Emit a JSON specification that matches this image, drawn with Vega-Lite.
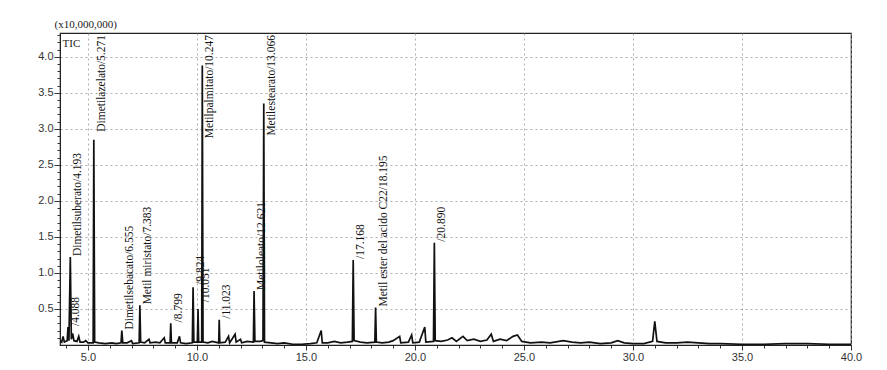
{
  "$schema": "https://vega.github.io/schema/vega-lite/v6.json",
  "autosize": {"type": "none"},
  "width": 791,
  "height": 312,
  "padding": {"left": 60, "top": 33, "right": 36, "bottom": 25},
  "background": "white",
  "config": {
    "view": {"stroke": "#222", "strokeWidth": 1.2},
    "axis": {"labelFont": "Liberation Sans", "labelFontSize": 11, "labelColor": "#333", "tickColor": "#333", "domainColor": "#222"}
  },
  "datasets": {
    "trace": [
      {"rt": 3.72, "i": 0.06}, {"rt": 3.8, "i": 0.04}, {"rt": 3.86, "i": 0.12}, {"rt": 3.92, "i": 0.04},
      {"rt": 4.05, "i": 0.06}, {"rt": 4.088, "i": 0.25}, {"rt": 4.13, "i": 0.06}, {"rt": 4.193, "i": 1.22},
      {"rt": 4.24, "i": 0.08}, {"rt": 4.3, "i": 0.16}, {"rt": 4.36, "i": 0.06}, {"rt": 4.5, "i": 0.05},
      {"rt": 4.58, "i": 0.12}, {"rt": 4.64, "i": 0.04}, {"rt": 4.8, "i": 0.04}, {"rt": 4.9, "i": 0.06},
      {"rt": 5.0, "i": 0.03}, {"rt": 5.24, "i": 0.03}, {"rt": 5.271, "i": 2.85}, {"rt": 5.31, "i": 0.04},
      {"rt": 5.5, "i": 0.03}, {"rt": 5.8, "i": 0.02}, {"rt": 6.1, "i": 0.03}, {"rt": 6.3, "i": 0.02},
      {"rt": 6.52, "i": 0.03}, {"rt": 6.555, "i": 0.2}, {"rt": 6.6, "i": 0.03}, {"rt": 6.8, "i": 0.03},
      {"rt": 7.0, "i": 0.06}, {"rt": 7.05, "i": 0.02}, {"rt": 7.35, "i": 0.03}, {"rt": 7.383, "i": 0.55},
      {"rt": 7.42, "i": 0.04}, {"rt": 7.6, "i": 0.03}, {"rt": 7.8, "i": 0.08}, {"rt": 7.85, "i": 0.03},
      {"rt": 8.1, "i": 0.04}, {"rt": 8.3, "i": 0.03}, {"rt": 8.5, "i": 0.1}, {"rt": 8.55, "i": 0.03},
      {"rt": 8.77, "i": 0.03}, {"rt": 8.799, "i": 0.3}, {"rt": 8.83, "i": 0.03}, {"rt": 9.1, "i": 0.03},
      {"rt": 9.2, "i": 0.12}, {"rt": 9.25, "i": 0.03}, {"rt": 9.5, "i": 0.02}, {"rt": 9.79, "i": 0.03},
      {"rt": 9.824, "i": 0.8}, {"rt": 9.86, "i": 0.04}, {"rt": 10.02, "i": 0.04}, {"rt": 10.051, "i": 0.5},
      {"rt": 10.08, "i": 0.04}, {"rt": 10.22, "i": 0.04}, {"rt": 10.247, "i": 3.88}, {"rt": 10.28, "i": 0.04},
      {"rt": 10.5, "i": 0.03}, {"rt": 10.7, "i": 0.05}, {"rt": 11.0, "i": 0.03}, {"rt": 11.023, "i": 0.35},
      {"rt": 11.05, "i": 0.03}, {"rt": 11.3, "i": 0.04}, {"rt": 11.45, "i": 0.12}, {"rt": 11.5, "i": 0.03},
      {"rt": 11.75, "i": 0.15}, {"rt": 11.8, "i": 0.04}, {"rt": 12.0, "i": 0.08}, {"rt": 12.05, "i": 0.03},
      {"rt": 12.3, "i": 0.05}, {"rt": 12.59, "i": 0.04}, {"rt": 12.621, "i": 0.75}, {"rt": 12.66, "i": 0.05},
      {"rt": 12.9, "i": 0.05}, {"rt": 13.03, "i": 0.06}, {"rt": 13.066, "i": 3.35}, {"rt": 13.1, "i": 0.04},
      {"rt": 13.4, "i": 0.03}, {"rt": 13.7, "i": 0.02}, {"rt": 14.0, "i": 0.03}, {"rt": 14.4, "i": 0.01},
      {"rt": 14.8, "i": 0.01}, {"rt": 15.2, "i": 0.02}, {"rt": 15.5, "i": 0.03}, {"rt": 15.7, "i": 0.2},
      {"rt": 15.75, "i": 0.03}, {"rt": 16.0, "i": 0.03}, {"rt": 16.3, "i": 0.05}, {"rt": 16.6, "i": 0.03},
      {"rt": 16.9, "i": 0.04}, {"rt": 17.13, "i": 0.05}, {"rt": 17.168, "i": 1.18}, {"rt": 17.21, "i": 0.06},
      {"rt": 17.5, "i": 0.04}, {"rt": 17.8, "i": 0.03}, {"rt": 18.16, "i": 0.04}, {"rt": 18.195, "i": 0.52},
      {"rt": 18.23, "i": 0.04}, {"rt": 18.5, "i": 0.03}, {"rt": 18.8, "i": 0.04}, {"rt": 19.0, "i": 0.06},
      {"rt": 19.3, "i": 0.12}, {"rt": 19.35, "i": 0.03}, {"rt": 19.7, "i": 0.04}, {"rt": 19.85, "i": 0.14},
      {"rt": 19.9, "i": 0.03}, {"rt": 20.2, "i": 0.04}, {"rt": 20.45, "i": 0.25}, {"rt": 20.5, "i": 0.04},
      {"rt": 20.85, "i": 0.05}, {"rt": 20.89, "i": 1.42}, {"rt": 20.93, "i": 0.06}, {"rt": 21.2, "i": 0.05},
      {"rt": 21.5, "i": 0.07}, {"rt": 21.7, "i": 0.1}, {"rt": 21.9, "i": 0.05}, {"rt": 22.2, "i": 0.12},
      {"rt": 22.4, "i": 0.06}, {"rt": 22.7, "i": 0.08}, {"rt": 23.0, "i": 0.05}, {"rt": 23.3, "i": 0.07},
      {"rt": 23.5, "i": 0.15}, {"rt": 23.6, "i": 0.05}, {"rt": 23.9, "i": 0.08}, {"rt": 24.2, "i": 0.06},
      {"rt": 24.5, "i": 0.12}, {"rt": 24.7, "i": 0.14}, {"rt": 24.9, "i": 0.05}, {"rt": 25.3, "i": 0.03},
      {"rt": 25.8, "i": 0.04}, {"rt": 26.2, "i": 0.03}, {"rt": 26.8, "i": 0.06}, {"rt": 27.2, "i": 0.04},
      {"rt": 27.6, "i": 0.03}, {"rt": 28.0, "i": 0.04}, {"rt": 28.5, "i": 0.02}, {"rt": 29.0, "i": 0.03},
      {"rt": 29.3, "i": 0.06}, {"rt": 29.6, "i": 0.03}, {"rt": 30.0, "i": 0.02}, {"rt": 30.5, "i": 0.02},
      {"rt": 30.9, "i": 0.05}, {"rt": 31.0, "i": 0.33}, {"rt": 31.1, "i": 0.05}, {"rt": 31.5, "i": 0.03},
      {"rt": 32.0, "i": 0.03}, {"rt": 32.5, "i": 0.04}, {"rt": 33.0, "i": 0.03}, {"rt": 33.5, "i": 0.02},
      {"rt": 34.0, "i": 0.02}, {"rt": 35.0, "i": 0.01}, {"rt": 36.0, "i": 0.01}, {"rt": 37.0, "i": 0.02},
      {"rt": 38.0, "i": 0.02}, {"rt": 39.0, "i": 0.01}, {"rt": 40.0, "i": 0.01}
    ],
    "labels": [
      {"rt": 4.088, "i": 0.25, "name": "/4.088"},
      {"rt": 4.193, "i": 1.22, "name": "Dimetilsuberato/4.193"},
      {"rt": 5.271, "i": 2.85, "name": "Dimetilazelato/5.271"},
      {"rt": 6.555, "i": 0.2, "name": "Dimetilsebacato/6.555"},
      {"rt": 7.383, "i": 0.55, "name": "Metil miristato/7.383"},
      {"rt": 8.799, "i": 0.3, "name": "/8.799"},
      {"rt": 9.824, "i": 0.82, "name": "/9.824"},
      {"rt": 10.051, "i": 0.58, "name": "/10.051"},
      {"rt": 10.247, "i": 3.88, "name": "Metilpalmitato/10.247"},
      {"rt": 11.023, "i": 0.35, "name": "/11.023"},
      {"rt": 12.621, "i": 0.75, "name": "Metiloleato/12.621"},
      {"rt": 13.066, "i": 3.35, "name": "Metilestearato/13.066"},
      {"rt": 17.168, "i": 1.18, "name": "/17.168"},
      {"rt": 18.195, "i": 0.52, "name": "Metil ester del acido C22/18.195"},
      {"rt": 20.89, "i": 1.42, "name": "/20.890"}
    ],
    "tic": [{"rt": 3.84, "i": 4.18, "name": "TIC"}]
  },
  "layer": [
    {
      "data": {"name": "trace"},
      "mark": {"type": "line", "color": "#111", "strokeWidth": 1.7, "clip": true},
      "encoding": {
        "x": {"field": "rt", "type": "quantitative",
              "scale": {"domain": [3.72, 40], "nice": false, "zero": false},
              "axis": {"title": null, "tickCount": 200,
                       "values": [4, 5, 6, 7, 8, 9, 10, 11, 12, 13, 14, 15, 16, 17, 18, 19, 20, 21, 22, 23, 24, 25, 26, 27, 28, 29, 30, 31, 32, 33, 34, 35, 36, 37, 38, 39, 40],
                       "labelExpr": "datum.value % 5 == 0 ? format(datum.value, '.1f') : ''",
                       "grid": true, "gridColor": "#999", "gridDash": [2, 3], "gridWidth": 0.8,
                       "gridOpacity": {"condition": {"test": "datum.value % 5 == 0", "value": 1}, "value": 0},
                       "tickSize": {"condition": {"test": "datum.value % 5 == 0", "value": 5}, "value": 3},
                       "labelPadding": 1, "labelFlush": false, "labelOverlap": false}},
        "y": {"field": "i", "type": "quantitative",
              "scale": {"domain": [0, 4.33], "nice": false},
              "axis": {"title": "(x10,000,000)", "titleAngle": 0, "titleAlign": "left", "titleBaseline": "middle",
                       "titleX": -6, "titleY": -9, "titleFont": "Liberation Serif", "titleFontSize": 11,
                       "titleFontWeight": "normal", "titleColor": "#222", "tickCount": 200,
                       "values": [0.1, 0.2, 0.3, 0.4, 0.5, 0.6, 0.7, 0.8, 0.9, 1.0, 1.1, 1.2, 1.3, 1.4, 1.5, 1.6, 1.7, 1.8, 1.9, 2.0, 2.1, 2.2, 2.3, 2.4, 2.5, 2.6, 2.7, 2.8, 2.9, 3.0, 3.1, 3.2, 3.3, 3.4, 3.5, 3.6, 3.7, 3.8, 3.9, 4.0, 4.1, 4.2, 4.3],
                       "labelExpr": "abs(datum.value * 2 - round(datum.value * 2)) < 0.001 ? format(datum.value, '.1f') : ''",
                       "grid": true, "gridColor": "#999", "gridDash": [2, 3], "gridWidth": 0.8,
                       "gridOpacity": {"condition": {"test": "abs(datum.value * 2 - round(datum.value * 2)) < 0.001", "value": 1}, "value": 0},
                       "tickSize": {"condition": {"test": "abs(datum.value * 2 - round(datum.value * 2)) < 0.001", "value": 6}, "value": 3},
                       "labelPadding": 1, "labelOverlap": false}}
      }
    },
    {
      "data": {"name": "labels"},
      "transform": [{"filter": "datum.i < 2.5"}],
      "mark": {"type": "text", "angle": -90, "align": "left", "baseline": "top", "dy": 2, "dx": 1,
               "font": "Liberation Serif", "fontSize": 11.5, "color": "#111"},
      "encoding": {
        "x": {"field": "rt", "type": "quantitative"},
        "y": {"field": "i", "type": "quantitative"},
        "text": {"field": "name"}
      }
    },
    {
      "data": {"name": "labels"},
      "transform": [{"filter": "datum.i >= 2.5"}],
      "mark": {"type": "text", "angle": -90, "align": "right", "baseline": "top", "dy": 2, "dx": -2,
               "font": "Liberation Serif", "fontSize": 11.5, "color": "#111"},
      "encoding": {
        "x": {"field": "rt", "type": "quantitative"},
        "y": {"datum": 4.33, "type": "quantitative"},
        "text": {"field": "name"}
      }
    },
    {
      "data": {"name": "tic"},
      "mark": {"type": "text", "align": "left", "baseline": "middle", "font": "Liberation Serif", "fontSize": 11, "color": "#222"},
      "encoding": {
        "x": {"field": "rt", "type": "quantitative"},
        "y": {"field": "i", "type": "quantitative"},
        "text": {"field": "name"}
      }
    }
  ]
}
